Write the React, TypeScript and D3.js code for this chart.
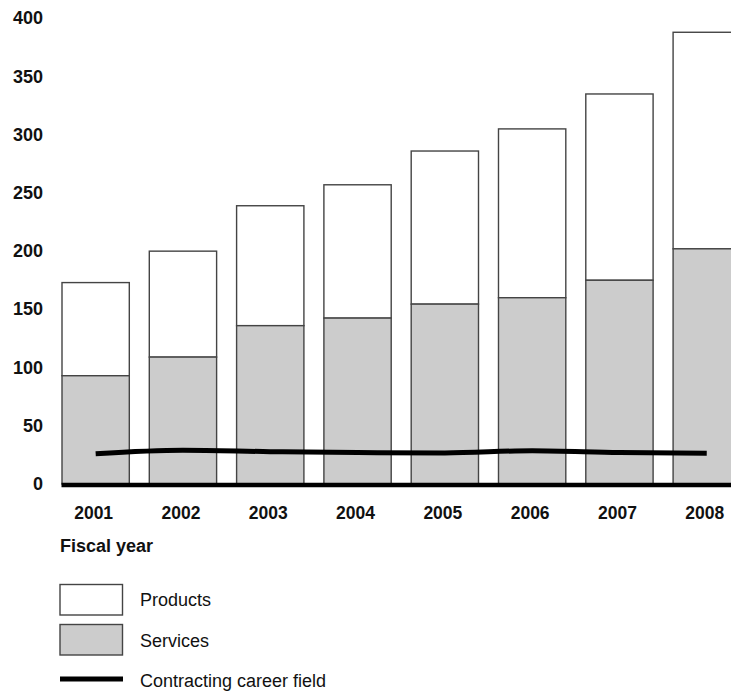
import React from 'react';
import * as d3 from 'd3';

const years = ['2001', '2002', '2003', '2004', '2005', '2006', '2007', '2008'];
const services = [93, 109, 136, 142.5, 154.5, 160, 175, 202];
const products = [80, 91, 103, 114.5, 131.5, 145, 160, 186];
const careerField = [26, 29, 27.8, 27, 26.7, 28.6, 27, 26.4];
const yTicks = [0, 50, 100, 150, 200, 250, 300, 350, 400];

const W = 731;
const H = 692;
const FONT = '"Liberation Sans", Arial, Helvetica, sans-serif';

export default function App() {
  const x = d3.scaleBand<string>()
    .domain(years)
    .range([62, 740.4])
    .paddingInner(0.229)
    .paddingOuter(0);

  const y = d3.scaleLinear()
    .domain([0, 400])
    .range([484, 18.3]);

  const rows = years.map((yr, i) => ({
    year: yr,
    services: services[i],
    total: services[i] + products[i],
    field: careerField[i],
  }));

  const line = d3.line<typeof rows[number]>()
    .x(d => (x(d.year) as number) + x.bandwidth() / 2)
    .y(d => y(d.field))
    .curve(d3.curveMonotoneX);

  const barStroke = '#444';

  return (
    <div style={{ position: 'fixed', left: 0, top: 0 }}>
      <svg width={W} height={H} style={{ display: 'block', background: '#fff', fontFamily: FONT }}>
        {/* y tick labels */}
        {yTicks.map(t => (
          <text key={t} x={43} y={y(t)} textAnchor="end" dominantBaseline="central"
            fontSize={18} fontWeight="bold" fill="#111">{t}</text>
        ))}

        {/* stacked bars */}
        {rows.map(d => {
          const bx = x(d.year) as number;
          return (
            <g key={d.year}>
              <rect x={bx} y={y(d.total)} width={x.bandwidth()} height={y(d.services) - y(d.total)}
                fill="#fff" stroke={barStroke} strokeWidth={1.4} />
              <rect x={bx} y={y(d.services)} width={x.bandwidth()} height={y(0) - y(d.services)}
                fill="#cccccc" stroke={barStroke} strokeWidth={1.4} />
            </g>
          );
        })}

        {/* baseline */}
        <line x1={61.5} x2={W} y1={y(0) + 1} y2={y(0) + 1} stroke="#000" strokeWidth={4.3} />

        {/* career field line */}
        <path d={line(rows) || ''} fill="none" stroke="#000" strokeWidth={5} />

        {/* x tick labels */}
        {years.map(yr => (
          <text key={yr} x={(x(yr) as number) + x.bandwidth() / 2 - 2} y={513} textAnchor="middle"
            dominantBaseline="central" fontSize={17.5} fontWeight="bold" fill="#111">{yr}</text>
        ))}

        <text x={60} y={546} dominantBaseline="central" fontSize={18} fontWeight="bold" fill="#111">
          Fiscal year
        </text>

        {/* legend */}
        <rect x={60} y={584.5} width={62.5} height={30.5} fill="#fff" stroke={barStroke} strokeWidth={1.4} />
        <text x={140} y={600} dominantBaseline="central" fontSize={18} fill="#111">Products</text>
        <rect x={60} y={624.5} width={62.5} height={30.5} fill="#cccccc" stroke={barStroke} strokeWidth={1.4} />
        <text x={140} y={640.5} dominantBaseline="central" fontSize={18} fill="#111">Services</text>
        <line x1={60} x2={123} y1={679} y2={679} stroke="#000" strokeWidth={5} />
        <text x={140} y={681} dominantBaseline="central" fontSize={18} fill="#111">Contracting career field</text>
      </svg>
    </div>
  );
}
